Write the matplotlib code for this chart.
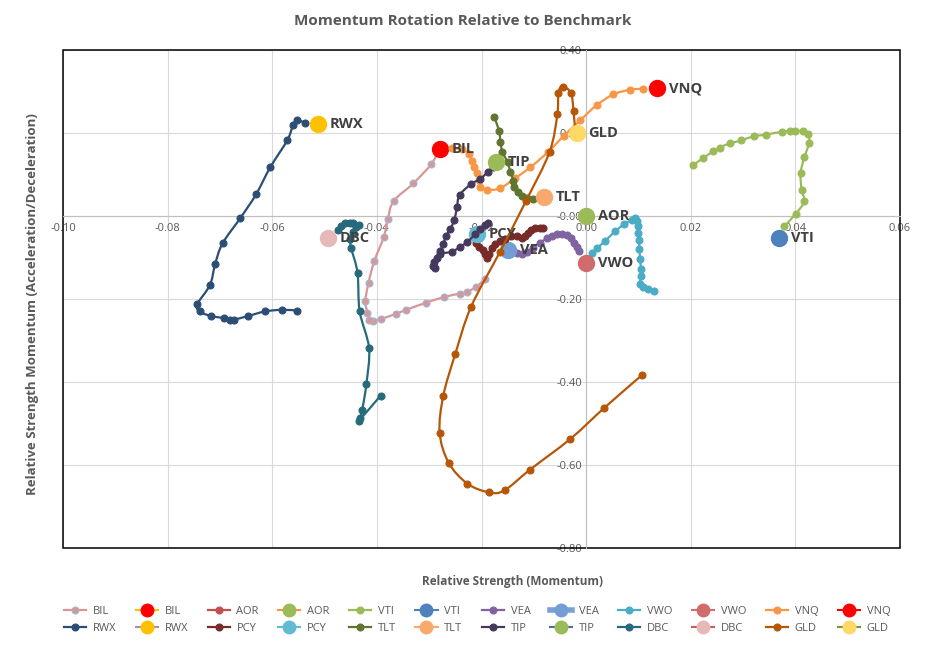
import numpy as np
import matplotlib
matplotlib.use("Agg")
import matplotlib.pyplot as plt
from matplotlib.path import Path
from matplotlib.patches import PathPatch, Rectangle
from matplotlib.lines import Line2D
from matplotlib.ticker import FormatStrFormatter

plt.rcParams['font.family'] = ['Open Sans', 'DejaVu Sans']
plt.rcParams['axes.unicode_minus'] = False

# trails (relative strength, momentum)
bil_x = [-0.0194, -0.0210, -0.0227, -0.0242, -0.0271, -0.0306, -0.0344, -0.0364, -0.0392, -0.0407, -0.0415,
         -0.0418, -0.0422, -0.0416, -0.0405, -0.0387, -0.0379, -0.0368, -0.0330, -0.0296, -0.0282]
bil_y = [-0.152, -0.171, -0.182, -0.187, -0.195, -0.209, -0.226, -0.236, -0.248, -0.252, -0.250,
         -0.233, -0.205, -0.161, -0.109, -0.051, -0.007, 0.036, 0.079, 0.125, 0.158]
aor_x = []
aor_y = []
vti_x = [0.0205, 0.0223, 0.0243, 0.0255, 0.0275, 0.0296, 0.0320, 0.0343, 0.0374, 0.0390, 0.0400, 0.0415,
         0.0425, 0.0426, 0.0417, 0.0410, 0.0412, 0.0417, 0.0401, 0.0379]
vti_y = [0.123, 0.139, 0.156, 0.165, 0.175, 0.182, 0.192, 0.196, 0.203, 0.205, 0.205, 0.204,
         0.197, 0.175, 0.141, 0.103, 0.063, 0.035, 0.006, -0.025]
vea_x = [-0.0013, -0.0018, -0.0023, -0.0029, -0.0037, -0.0046, -0.0056, -0.0066, -0.0075, -0.0088, -0.0101,
         -0.0113, -0.0123, -0.0132]
vea_y = [-0.084, -0.075, -0.064, -0.054, -0.046, -0.044, -0.044, -0.047, -0.054, -0.064, -0.076,
         -0.086, -0.091, -0.088]
vwo_x = [0.0129, 0.0119, 0.0108, 0.0103, 0.0105, 0.0105, 0.0103, 0.0102, 0.0101, 0.0100, 0.0100, 0.0098,
         0.0094, 0.0087, 0.0073, 0.0055, 0.0036, 0.0020, 0.0011]
vwo_y = [-0.180, -0.177, -0.171, -0.163, -0.145, -0.127, -0.103, -0.079, -0.059, -0.041, -0.023, -0.011,
         -0.006, -0.009, -0.020, -0.037, -0.061, -0.078, -0.089]
vnq_x = [-0.0257, -0.0238, -0.0223, -0.0219, -0.0214, -0.0209, -0.0204, -0.0203, -0.0190, -0.0164, -0.0136,
         -0.0107, -0.0072, -0.0043, -0.0011, 0.0020, 0.0052, 0.0083, 0.0108]
vnq_y = [0.163, 0.161, 0.149, 0.133, 0.119, 0.103, 0.087, 0.071, 0.063, 0.067, 0.091,
         0.117, 0.155, 0.193, 0.231, 0.267, 0.293, 0.304, 0.307]
rwx_x = [-0.0552, -0.0581, -0.0614, -0.0646, -0.0674, -0.0681, -0.0693, -0.0717, -0.0739, -0.0743, -0.0719,
         -0.0709, -0.0695, -0.0661, -0.0631, -0.0604, -0.0571, -0.0560, -0.0552, -0.0537]
rwx_y = [-0.228, -0.226, -0.230, -0.241, -0.250, -0.250, -0.246, -0.241, -0.230, -0.212, -0.166,
         -0.115, -0.066, -0.005, 0.052, 0.117, 0.183, 0.220, 0.231, 0.224]
pcy_x = [-0.0083, -0.0088, -0.0097, -0.0106, -0.0112, -0.0117, -0.0123, -0.0132, -0.0144, -0.0155, -0.0164,
         -0.0174, -0.0180, -0.0185, -0.0190, -0.0193, -0.0198, -0.0204, -0.0210, -0.0215]
pcy_y = [-0.030, -0.028, -0.030, -0.034, -0.042, -0.048, -0.052, -0.048, -0.048, -0.056, -0.060,
         -0.067, -0.076, -0.091, -0.100, -0.092, -0.083, -0.075, -0.064, -0.050]
tlt_x = [-0.0176, -0.0166, -0.0164, -0.0160, -0.0150, -0.0145, -0.0139, -0.0137, -0.0131, -0.0123, -0.0113, -0.0101]
tlt_y = [0.239, 0.204, 0.179, 0.155, 0.129, 0.107, 0.085, 0.069, 0.057, 0.049, 0.043, 0.041]
tip_x = [-0.0187, -0.0193, -0.0203, -0.0212, -0.0227, -0.0241, -0.0257, -0.0279, -0.0290, -0.0292, -0.0289,
         -0.0286, -0.0279, -0.0273, -0.0268, -0.0260, -0.0252, -0.0247, -0.0242, -0.0220, -0.0203, -0.0188, -0.0178]
tip_y = [-0.016, -0.022, -0.032, -0.044, -0.062, -0.075, -0.086, -0.092, -0.110, -0.121, -0.126,
         -0.100, -0.084, -0.068, -0.048, -0.032, -0.010, 0.021, 0.050, 0.077, 0.089, 0.106, 0.117]
dbc_x = [-0.0393, -0.0434, -0.0432, -0.0428, -0.0420, -0.0415, -0.0433, -0.0437, -0.0449, -0.0451, -0.0446,
         -0.0440, -0.0435, -0.0445, -0.0452, -0.0461, -0.0469, -0.0475]
dbc_y = [-0.433, -0.493, -0.486, -0.467, -0.404, -0.318, -0.229, -0.137, -0.078, -0.056, -0.038,
         -0.026, -0.022, -0.018, -0.016, -0.018, -0.024, -0.034]
gld_x = [0.0107, 0.0035, -0.0030, -0.0107, -0.0156, -0.0185, -0.0227, -0.0263, -0.0280, -0.0273, -0.0250,
         -0.0220, -0.0165, -0.0115, -0.0070, -0.0055, -0.0053, -0.0045, -0.0029, -0.0024, -0.0021]
gld_y = [-0.383, -0.462, -0.537, -0.611, -0.661, -0.666, -0.645, -0.594, -0.522, -0.433, -0.332,
         -0.219, -0.087, 0.036, 0.154, 0.245, 0.297, 0.312, 0.296, 0.252, 0.205]

# latest points
end_names = ['BIL', 'AOR', 'VTI', 'VEA', 'VWO', 'VNQ', 'RWX', 'PCY', 'TLT', 'TIP', 'DBC', 'GLD']
end_x = [-0.0279, 0.0, 0.0369, -0.0149, 0.0, 0.0136, -0.0512, -0.0209, -0.0080, -0.0172, -0.0493, -0.0018]
end_y = [0.161, 0.0, -0.054, -0.083, -0.113, 0.308, 0.221, -0.043, 0.046, 0.129, -0.052, 0.200]

trails = [(bil_x, bil_y), (aor_x, aor_y), (vti_x, vti_y), (vea_x, vea_y), (vwo_x, vwo_y), (vnq_x, vnq_y),
          (rwx_x, rwx_y), (pcy_x, pcy_y), (tlt_x, tlt_y), (tip_x, tip_y), (dbc_x, dbc_y), (gld_x, gld_y)]

# (line colour, marker face, marker edge)
trail_cols = [('#D99694', '#D99694', '#9DB8D9'), ('#C0504D', '#C0504D', '#C0504D'),
              ('#9BBB59', '#9BBB59', '#9BBB59'), ('#8064A2', '#8064A2', '#8064A2'),
              ('#4BACC6', '#4BACC6', '#4BACC6'), ('#F79646', '#F79646', '#F79646'),
              ('#2C4D75', '#2C4D75', '#2C4D75'), ('#772C2A', '#772C2A', '#772C2A'),
              ('#5F7530', '#5F7530', '#5F7530'), ('#46395E', '#46395E', '#46395E'),
              ('#276A7C', '#276A7C', '#276A7C'), ('#B65708', '#B65708', '#B65708')]
# (legend line colour, marker colour, legend line width)
end_cols = [('#FFC000', '#FF0000', 1.5), ('#F79646', '#9BBB59', 1.5), ('#4F81BD', '#4F81BD', 1.5),
            ('#7BA0D4', '#739ED4', 4.0), ('#D07070', '#D06C6C', 1.5), ('#FF0000', '#FF0000', 1.5),
            ('#A08DC0', '#FFC000', 1.5), ('#63BBD3', '#63BBD3', 1.5), ('#F9A96B', '#F9A96B', 1.5),
            ('#4F6EA0', '#9BBB59', 1.5), ('#C0605E', '#E6B9B8', 1.5), ('#77933C', '#FFD966', 1.5)]


def smooth_path(xs, ys):
    pts = np.column_stack([xs, ys])
    n = len(pts)
    verts = [pts[0]]
    codes = [Path.MOVETO]
    for i in range(n - 1):
        p0 = pts[max(i - 1, 0)]
        p1 = pts[i]
        p2 = pts[i + 1]
        p3 = pts[min(i + 2, n - 1)]
        verts += [p1 + (p2 - p0) / 6, p2 - (p3 - p1) / 6, p2]
        codes += [Path.CURVE4] * 3
    return Path(verts, codes)


fig = plt.figure(figsize=(9.26, 6.45), dpi=100)
ax = fig.add_axes([63 / 926, 1 - 548 / 645, 837 / 926, 498 / 645])
ax.set_xlim(-0.10, 0.06)
ax.set_ylim(-0.80, 0.40)
ax.set_xticks(np.arange(-0.10, 0.0601, 0.02))
ax.set_yticks(np.arange(-0.80, 0.401, 0.20))
ax.xaxis.set_major_formatter(FormatStrFormatter('%.2f'))
ax.yaxis.set_major_formatter(FormatStrFormatter('%.2f'))
ax.grid(True, color='#D9D9D9', linewidth=0.8, zorder=0)
ax.set_axisbelow(True)
for s in ['top', 'right']:
    ax.spines[s].set_visible(False)
ax.spines['left'].set_position(('data', 0))
ax.spines['bottom'].set_position(('data', 0))
ax.spines['left'].set_color('#BFBFBF')
ax.spines['bottom'].set_color('#BFBFBF')
ax.tick_params(length=0, labelsize=8, colors='#595959')
ax.tick_params(axis='x', pad=5)
ax.tick_params(axis='y', pad=3)
ax.add_patch(Rectangle((0, 0), 1, 1, transform=ax.transAxes, fill=False, edgecolor='black',
                       linewidth=1.1, clip_on=False, zorder=1))

handles_a = []
handles_b = []
z = 3
for i, name in enumerate(end_names):
    xs, ys = trails[i]
    lc, mf, me = trail_cols[i]
    if len(xs) > 1:
        ax.add_patch(PathPatch(smooth_path(xs, ys), fill=False, edgecolor=lc, linewidth=1.6, zorder=z))
        ax.plot(xs, ys, linestyle='none', marker='o', markersize=5, markerfacecolor=mf,
                markeredgecolor=me, markeredgewidth=0.8, zorder=z + 0.1)
    handles_a.append(Line2D([], [], color=lc, linewidth=1.6, marker='o', markersize=5,
                            markerfacecolor=mf, markeredgecolor=me, markeredgewidth=0.8))
    z += 1
    elc, emc, elw = end_cols[i]
    ax.plot([end_x[i]], [end_y[i]], linestyle='none', marker='o', markersize=11.5,
            markerfacecolor=emc, markeredgecolor=emc, zorder=z)
    ax.annotate(name, (end_x[i], end_y[i]), xytext=(8.5, 0), textcoords='offset points',
                ha='left', va='center', fontsize=10.5, fontweight='bold', color='#404040', zorder=30)
    handles_b.append(Line2D([], [], color=elc, linewidth=elw, marker='o', markersize=9,
                            markerfacecolor=emc, markeredgecolor=emc))
    z += 1

# legend: two rows of 12, filled column by column
row1_h, row1_l, row2_h, row2_l = [], [], [], []
for i, name in enumerate(end_names):
    hs = [handles_a[i], handles_b[i]]
    tgt_h, tgt_l = (row1_h, row1_l) if i < 6 else (row2_h, row2_l)
    tgt_h += hs
    tgt_l += [name, name]
leg_h, leg_l = [], []
for k in range(12):
    leg_h += [row1_h[k], row2_h[k]]
    leg_l += [row1_l[k], row2_l[k]]
fig.legend(leg_h, leg_l, ncol=12, loc='center', bbox_to_anchor=(477 / 926, 1 - 620 / 645),
           frameon=False, fontsize=8, handlelength=2.0, handletextpad=0.6, columnspacing=1.75,
           labelspacing=0.55, labelcolor='#595959')

fig.text(463 / 926, 1 - 21 / 645, 'Momentum Rotation Relative to Benchmark', ha='center', va='center',
         fontsize=11, fontweight='bold', color='#595959')
fig.text(513 / 926, 1 - 581 / 645, 'Relative Strength (Momentum)', ha='center', va='center',
         fontsize=8.5, fontweight='bold', color='#595959')
fig.text(33 / 926, 1 - 304 / 645, 'Relative Strength Momentum (Acceleration/Deceleration)', ha='center',
         va='center', rotation=90, fontsize=9.5, fontweight='bold', color='#595959')

fig.savefig('out.png', dpi=100)
